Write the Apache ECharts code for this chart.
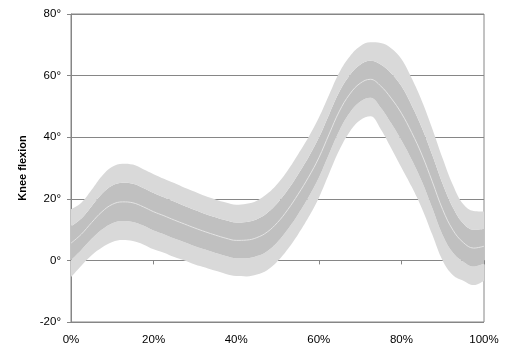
<!DOCTYPE html>
<html>
<head>
<meta charset="utf-8">
<script src="https://cdn.jsdelivr.net/npm/echarts@6/dist/echarts.min.js"></script>
<style>
html,body{margin:0;padding:0;background:#fff;}
#chart{width:514px;height:355px;}
</style>
</head>
<body>
<div id="chart"></div>
<script>
// Gait cycle (%)
const pct = [0,2.5,5,7.5,10,12.5,15,17.5,20,22.5,25,27.5,30,32.5,35,37.5,40,42.5,45,47.5,50,52.5,55,57.5,60,62.5,65,67.5,70,72.5,75,77.5,80,82.5,85,87.5,90,92.5,95,97.5,100];
// Mean knee flexion (deg)
const mean = [5.6,8.5,12.3,15.8,18.2,19.0,18.7,17.4,15.8,14.5,13.1,11.8,10.5,9.3,8.2,7.2,6.5,6.6,7.4,9.2,12.3,16.5,21.5,27.0,33.3,41.0,48.5,54.0,57.5,58.8,56.6,52.7,47.8,41.5,34.2,25.5,16.5,9.8,5.8,4.0,4.6];
// Standard deviation (deg)
const sd = [5.5,5.1,5.3,5.8,6.1,6.2,6.2,6.1,6.1,6.0,6.0,5.9,5.9,5.8,5.8,5.8,5.8,5.9,6.0,6.2,6.3,6.4,6.5,6.5,6.5,6.4,6.3,6.1,6.0,6.0,7.0,8.1,8.8,8.8,8.7,8.6,8.3,7.3,6.2,6.0,5.6];
const yTicks = [-20,0,20,40,60,80];
const xTicks = [0,20,40,60,80,100];

const gridColor = '#868686';
const font = 'Liberation Sans, Arial, sans-serif';
const smooth = 0.4;

const base = mean.map((m,i)=>m-2*sd[i]);
const band1 = sd.slice();
const band2 = sd.map(s=>2*s);
const band3 = sd.slice();

function bandSeries(data, color){
  return {
    type:'line', data, stack:'band', stackStrategy:'all', symbol:'none', smooth,
    lineStyle:{width:0, opacity:0}, silent:true,
    areaStyle: color ? {color, opacity:1} : undefined
  };
}

const chart = echarts.init(document.getElementById('chart'), null, {renderer:'canvas'});
chart.setOption({
  animation:false,
  grid:{left:71, right:30, top:14, bottom:33, show:true, borderColor:gridColor, borderWidth:1, backgroundColor:'transparent'},
  xAxis:[
    {type:'category', data:pct.map(String), boundaryGap:false, position:'bottom',
     axisLine:{show:false, onZero:false}, axisTick:{show:false}, splitLine:{show:false},
     axisLabel:{interval:(idx,val)=>xTicks.includes(+val), formatter:'{value}%', margin:12, fontSize:11.5, color:'#000', fontFamily:font}},
    {type:'value', min:xTicks[0], max:xTicks[xTicks.length-1], interval:20, position:'bottom',
     axisLine:{show:true, onZero:true, lineStyle:{color:gridColor, width:1}},
     axisTick:{show:true, length:4, lineStyle:{color:gridColor}},
     axisLabel:{show:false}, splitLine:{show:false}}
  ],
  yAxis:{type:'value', min:yTicks[0], max:yTicks[yTicks.length-1], interval:20,
    name:'Knee flexion', nameLocation:'middle', nameGap:38,
    nameTextStyle:{fontFamily:font, fontSize:11, fontWeight:'bold', color:'#000'},
    axisLine:{show:true, lineStyle:{color:gridColor, width:1}},
    axisTick:{show:true, length:4, lineStyle:{color:gridColor}},
    splitLine:{show:true, lineStyle:{color:gridColor, width:1}},
    axisLabel:{formatter:'{value}°', margin:10, fontSize:11.5, color:'#000', fontFamily:font}
  },
  series:[
    bandSeries(base, null),
    bandSeries(band1, '#d9d9d9'),
    bandSeries(band2, '#c0c0c0'),
    bandSeries(band3, '#d9d9d9'),
    {type:'line', data:mean, symbol:'none', smooth, silent:true,
     lineStyle:{color:'#e4e4e4', width:1}}
  ]
});
</script>
</body>
</html>
